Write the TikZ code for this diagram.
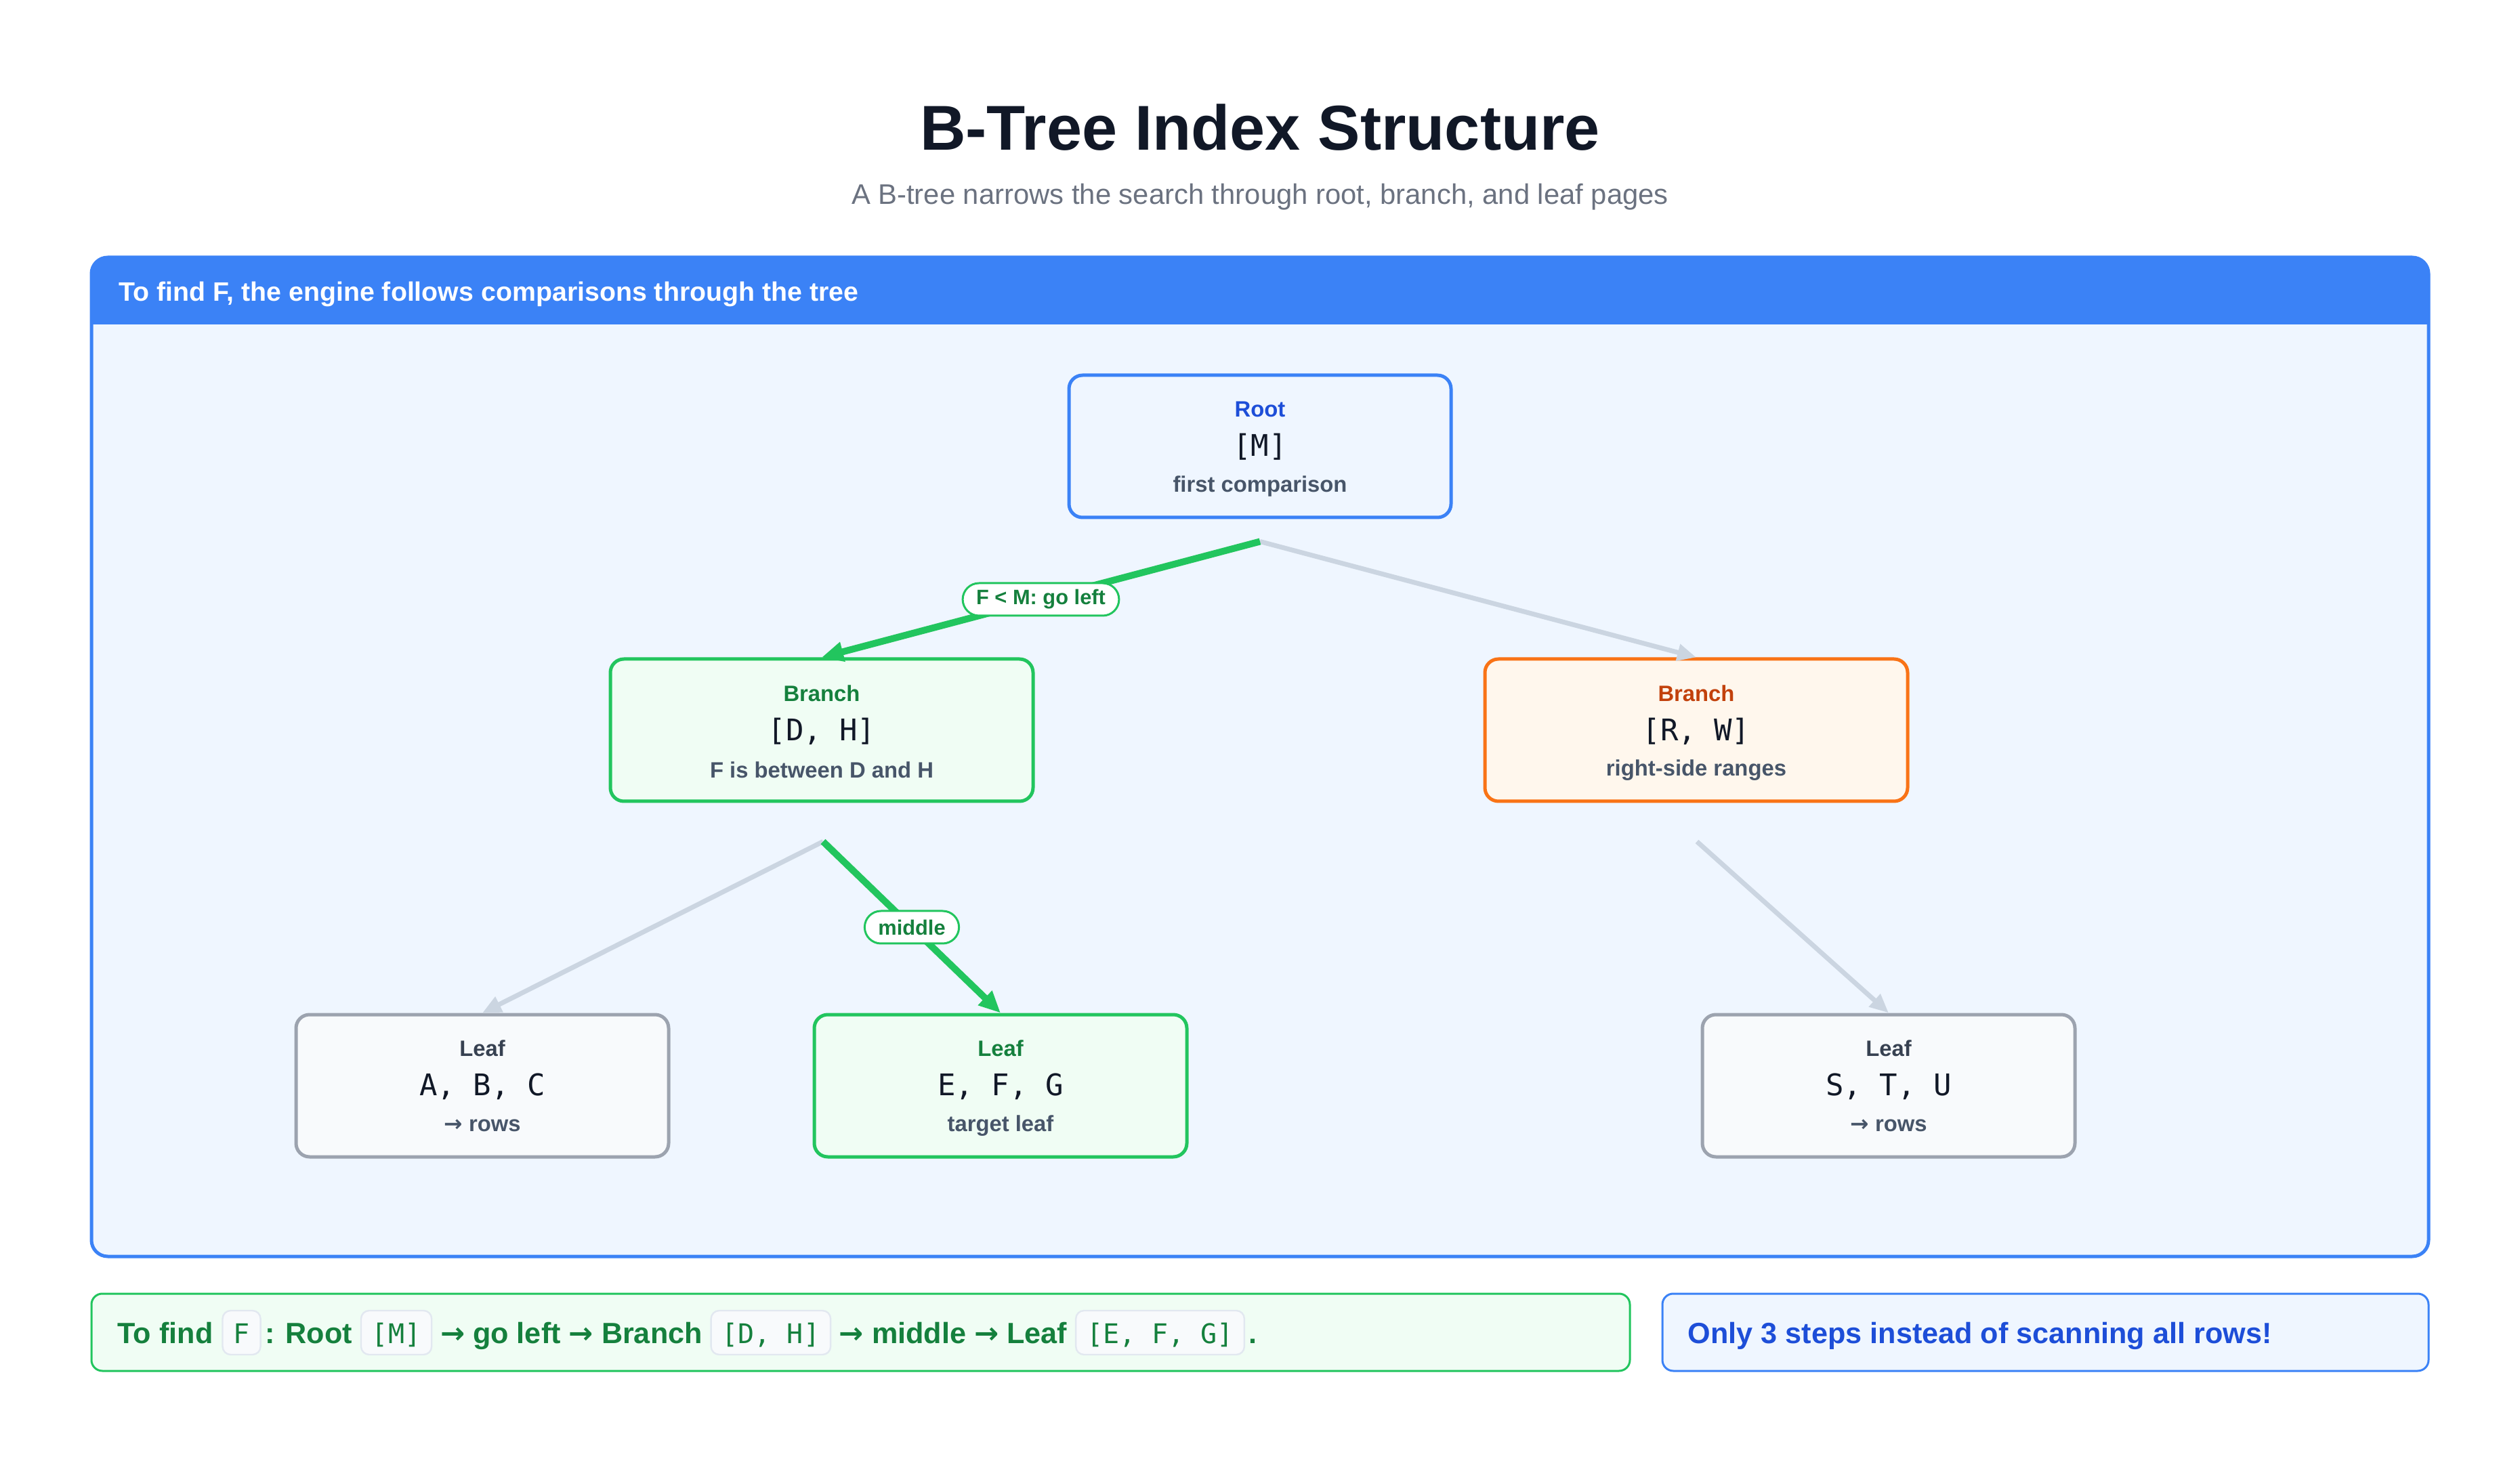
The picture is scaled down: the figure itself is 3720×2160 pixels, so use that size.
\documentclass[tikz,border=0pt]{standalone}
\usepackage{fontspec}
\setmainfont{Liberation Sans}
\setmonofont{DejaVu Sans Mono}
\newfontfamily\arrowfont{DejaVu Sans}
\usetikzlibrary{arrows.meta,calc}
\definecolor{blue500}{HTML}{3B82F6}
\definecolor{blue50}{HTML}{EFF6FF}
\definecolor{blue700}{HTML}{1D4ED8}
\definecolor{green500}{HTML}{22C55E}
\definecolor{green50}{HTML}{F0FDF4}
\definecolor{green700}{HTML}{15803D}
\definecolor{orange500}{HTML}{F97316}
\definecolor{orange50}{HTML}{FFF7ED}
\definecolor{orange700}{HTML}{C2410C}
\definecolor{gray400}{HTML}{9CA3AF}
\definecolor{slate50}{HTML}{F8FAFC}
\definecolor{slate200}{HTML}{E2E8F0}
\definecolor{slate300}{HTML}{CBD5E1}
\definecolor{slate600}{HTML}{475569}
\definecolor{gray700}{HTML}{374151}
\definecolor{gray500}{HTML}{6B7280}
\definecolor{ink}{HTML}{111827}
\newcommand\rarr{{\arrowfont\bfseries →}}
\newcommand\fsz[1]{\fontsize{#1}{1.2\dimexpr#1\relax}\selectfont}
\tikzset{
  box/.style={rounded corners=5pt, line width=1.25pt, minimum height=52.5pt, inner sep=0pt},
  rootbox/.style={box, draw=blue500, fill=blue50, minimum width=141pt},
  greenbox/.style={box, draw=green500, fill=green50},
  orangebox/.style={box, draw=orange500, fill=orange50},
  graybox/.style={box, draw=gray400, fill=slate50},
  ntitle/.style={inner sep=0pt, font=\fsz{8.2pt}\bfseries},
  nkeys/.style={inner sep=0pt, font=\fsz{11pt}\ttfamily, text=ink},
  nsub/.style={inner sep=0pt, font=\fsz{8.2pt}\bfseries, text=slate600},
  coldedge/.style={line width=1.75pt, draw=slate300, -{Triangle[length=7pt,width=6pt]}},
  hotedge/.style={line width=2.5pt, draw=green500, -{Triangle[length=8pt,width=7pt]}},
  pill/.style={fill=white, draw=green500, line width=0.75pt, rounded corners=6pt,
    text=green700, font=\fsz{7.7pt}\bfseries, inner xsep=5pt, inner ysep=0pt,
    minimum height=12pt},
  btxt/.style={inner sep=0pt, font=\fsz{10.8pt}\bfseries, text=green700, anchor=base west},
  codebox/.style={draw=slate200, fill=slate50, line width=0.6pt, rounded corners=3pt,
    font=\fsz{10pt}\ttfamily, text=green700, inner xsep=4pt, inner ysep=0pt,
    text height=12pt, text depth=4.25pt, anchor=base west},
}
\begin{document}
\begin{tikzpicture}[x=0.25pt, y=-0.25pt]
\useasboundingbox (0,0) rectangle (3720,2160);
\fill[white] (0,0) rectangle (3720,2160);

% title
\node[inner sep=0pt, font=\fsz{23.4pt}\bfseries, text=ink] (title) at (1860,188) {B-Tree Index Structure};
\node[inner sep=0pt, font=\fsz{10.45pt}, text=gray500] (subtitle) at (1860,291) {A B-tree narrows the search through root, branch, and leaf pages};

% panel
\begin{scope}
  \clip[rounded corners=6pt] (135,380) rectangle (3585,1855);
  \fill[blue50] (135,380) rectangle (3585,1855);
  \fill[blue500] (135,380) rectangle (3585,479);
\end{scope}
\draw[blue500, line width=1.25pt, rounded corners=6pt] (135,380) rectangle (3585,1855);
\node[inner sep=0pt, anchor=west, font=\fsz{9.83pt}\bfseries, text=white] (header) at (175,434)
  {To find F, the engine follows comparisons through the tree};

% root
\node[rootbox] (root) at (1860,659) {};
\node[ntitle, text=blue700] (root-t) at ($(root.center)+(0,-55)$) {Root};
\node[nkeys] (root-k) at ($(root.center)+(0,1)$) {[M]};
\node[nsub] (root-s) at ($(root.center)+(0,59)$) {first comparison};

% branches
\node[greenbox, minimum width=156pt] (bl) at (1213,1078) {};
\node[ntitle, text=green700] (bl-t) at ($(bl.center)+(0,-54)$) {Branch};
\node[nkeys] (bl-k) at ($(bl.center)+(0,2)$) {[D, H]};
\node[nsub] (bl-s) at ($(bl.center)+(0,59)$) {F is between D and H};

\node[orangebox, minimum width=156pt] (br) at (2504,1078) {};
\node[ntitle, text=orange700] (br-t) at ($(br.center)+(0,-54)$) {Branch};
\node[nkeys] (br-k) at ($(br.center)+(0,2)$) {[R, W]};
\node[nsub] (br-s) at ($(br.center)+(0,59)$) {right-side ranges};

% leaves
\node[graybox, minimum width=137.5pt] (la) at (712,1603) {};
\node[ntitle, text=gray700] (la-t) at ($(la.center)+(0,-55)$) {Leaf};
\node[nkeys] (la-k) at ($(la.center)+(0,1)$) {A, B, C};
\node[nsub] (la-s) at ($(la.center)+(0,59)$) {\rarr\ rows};

\node[greenbox, minimum width=137.5pt] (lm) at (1477,1603) {};
\node[ntitle, text=green700] (lm-t) at ($(lm.center)+(0,-55)$) {Leaf};
\node[nkeys] (lm-k) at ($(lm.center)+(0,1)$) {E, F, G};
\node[nsub] (lm-s) at ($(lm.center)+(0,59)$) {target leaf};

\node[graybox, minimum width=137.5pt] (lr) at (2788,1603) {};
\node[ntitle, text=gray700] (lr-t) at ($(lr.center)+(0,-55)$) {Leaf};
\node[nkeys] (lr-k) at ($(lr.center)+(0,1)$) {S, T, U};
\node[nsub] (lr-s) at ($(lr.center)+(0,59)$) {\rarr\ rows};

% edges
\coordinate (root-out) at ($(root.south)+(0,33)$);
\coordinate (bl-out) at ($(bl.south)+(2,57)$);
\coordinate (br-out) at ($(br.south)+(1,57)$);
\draw[coldedge] (root-out) -- (br.north);
\draw[coldedge] (bl-out) -- (la.north);
\draw[coldedge] (br-out) -- (lr.north);
\draw[hotedge] (root-out) -- (bl.north) node[pill, midway] (lab1) {F < M: go left};
\draw[hotedge] (bl-out) -- (lm.north) node[pill, midway] (lab2) {middle};

% bottom boxes
\draw[green500, fill=green50, line width=0.75pt, rounded corners=4pt] (135,1910) rectangle (2406,2024);
\draw[blue500, fill=blue50, line width=0.75pt, rounded corners=4pt] (2454,1910) rectangle (3585,2024);

\node[btxt] (s1) at (173,1983) {To find\kern3pt};
\node[codebox] (c1) at (s1.base east) {F};
\node[btxt] (s2) at (c1.base east) {\kern1.2pt: Root\kern2.7pt};
\node[codebox] (c2) at (s2.base east) {[M]};
\node[btxt] (s3) at (c2.base east) {\kern2.7pt\rarr\ go left \rarr\ Branch\kern2.7pt};
\node[codebox] (c3) at (s3.base east) {[D, H]};
\node[btxt] (s4) at (c3.base east) {\kern2.7pt\rarr\ middle \rarr\ Leaf\kern2.7pt};
\node[codebox] (c4) at (s4.base east) {[E, F, G]};
\node[btxt] (s5) at (c4.base east) {\kern1.2pt.};

\node[btxt, text=blue700] (note) at (2491,1983) {Only 3 steps instead of scanning all rows!};
\end{tikzpicture}
\end{document}
